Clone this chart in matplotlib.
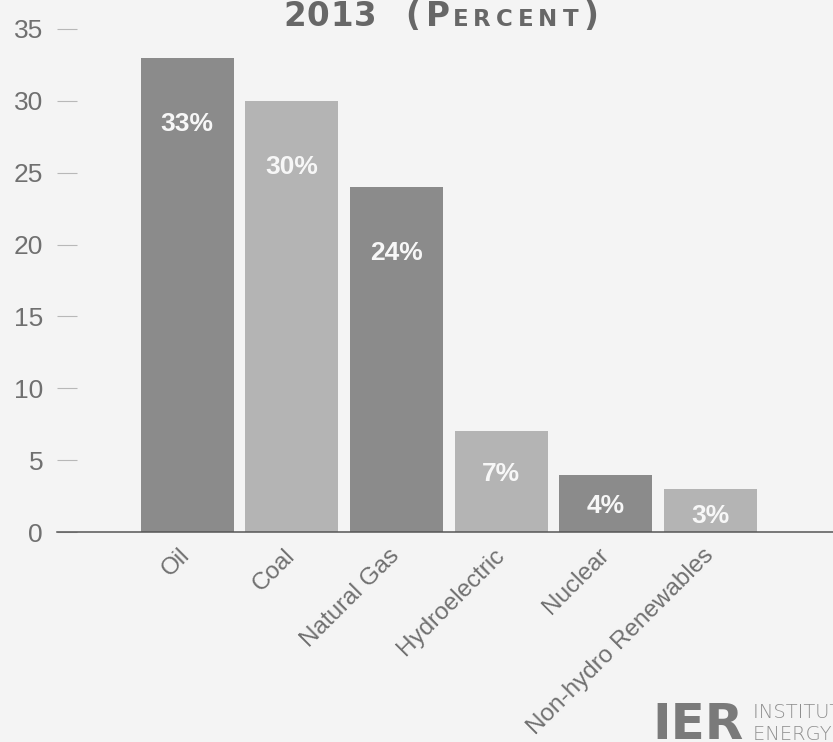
import matplotlib
matplotlib.use("Agg")
import matplotlib.pyplot as plt
from matplotlib.transforms import ScaledTranslation

# Shares of world primary energy consumption, 2013 (percent)
sources = ["Oil", "Coal", "Natural Gas", "Hydroelectric", "Nuclear", "Non-hydro Renewables"]
shares = [33, 30, 24, 7, 4, 3]
y_ticks = [0, 5, 10, 15, 20, 25, 30, 35]

W, H, DPI = 833, 742, 100
BG = "#f4f4f4"
DARK, LIGHT = "#8b8b8b", "#b4b4b4"
TEXT = "#707070"

fig = plt.figure(figsize=(W / DPI, H / DPI), dpi=DPI, facecolor=BG)
ax = fig.add_axes([57 / W, (H - 532) / H, (W - 57) / W, (532 - 29) / H])
ax.set_facecolor(BG)

colors = [DARK if i % 2 == 0 else LIGHT for i in range(len(sources))]
x = list(range(len(sources)))
ax.bar(x, shares, width=0.89, color=colors, edgecolor="none", zorder=2)

ax.set_xlim(-1.243, 6.17)
ax.set_ylim(0, 35)

# value labels inside the bars
for xi, v in zip(x, shares):
    drop = min(73, 22 + 4 * v)
    ax.annotate(f"{v}%", xy=(xi, v), xytext=(0, -drop), textcoords="offset pixels",
                ha="center", va="baseline", fontsize=19, fontweight="bold",
                family="Liberation Sans", color="#f7f7f7", zorder=3)

for side in ("left", "right", "top"):
    ax.spines[side].set_visible(False)
ax.spines["bottom"].set_color("#555555")
ax.spines["bottom"].set_linewidth(1.1)

ax.set_yticks(y_ticks)
ax.set_yticklabels([str(t) for t in y_ticks], family="Liberation Sans",
                   fontsize=19, color=TEXT)
ax.tick_params(axis="y", direction="in", length=14.5, width=0.8,
               color="#b8b8b8", pad=10)

ax.set_xticks(x)
ax.set_xticklabels(sources, rotation=45, ha="right", va="top",
                   rotation_mode="anchor", family="Liberation Sans",
                   fontsize=17.5, color=TEXT)
ax.tick_params(axis="x", length=0, pad=9)
shift = ScaledTranslation(-8 / DPI, 0, fig.dpi_scale_trans)
for lab in ax.get_xticklabels():
    lab.set_transform(lab.get_transform() + shift)

# title set in letter-spaced small caps
renderer = fig.canvas.get_renderer()
title_parts = [("2013", 23.5, 1), (" ", 23.5, 0), ("(", 23.5, 5), ("P", 23.5, 3),
               ("ERCENT", 16.5, 5), (")", 23.5, 0)]
tx = 283.0
ty = (H - 26) / H
for chunk, size, track in title_parts:
    for ch in chunk:
        if ch == " ":
            tx += 28
            continue
        t = fig.text(tx / W, ty, ch, fontsize=size, fontweight="bold",
                     family="DejaVu Sans", color="#676767", ha="left", va="baseline")
        tx += t.get_window_extent(renderer).width + track

# logo
fig.text(652 / W, (H - 739) / H, "IER", fontsize=36, fontweight="bold",
         family="DejaVu Sans", color="#7a7a7a", ha="left", va="baseline")
fig.text(753 / W, (H - 718) / H, "INSTITUTE FOR", fontsize=14,
         family="DejaVu Sans", fontweight="light", color="#8e8e8e", ha="left", va="baseline")
fig.text(753 / W, (H - 740) / H, "ENERGY RESEARCH", fontsize=14,
         family="DejaVu Sans", fontweight="light", color="#8e8e8e", ha="left", va="baseline")

fig.savefig("out.png", dpi=DPI, facecolor=BG)
